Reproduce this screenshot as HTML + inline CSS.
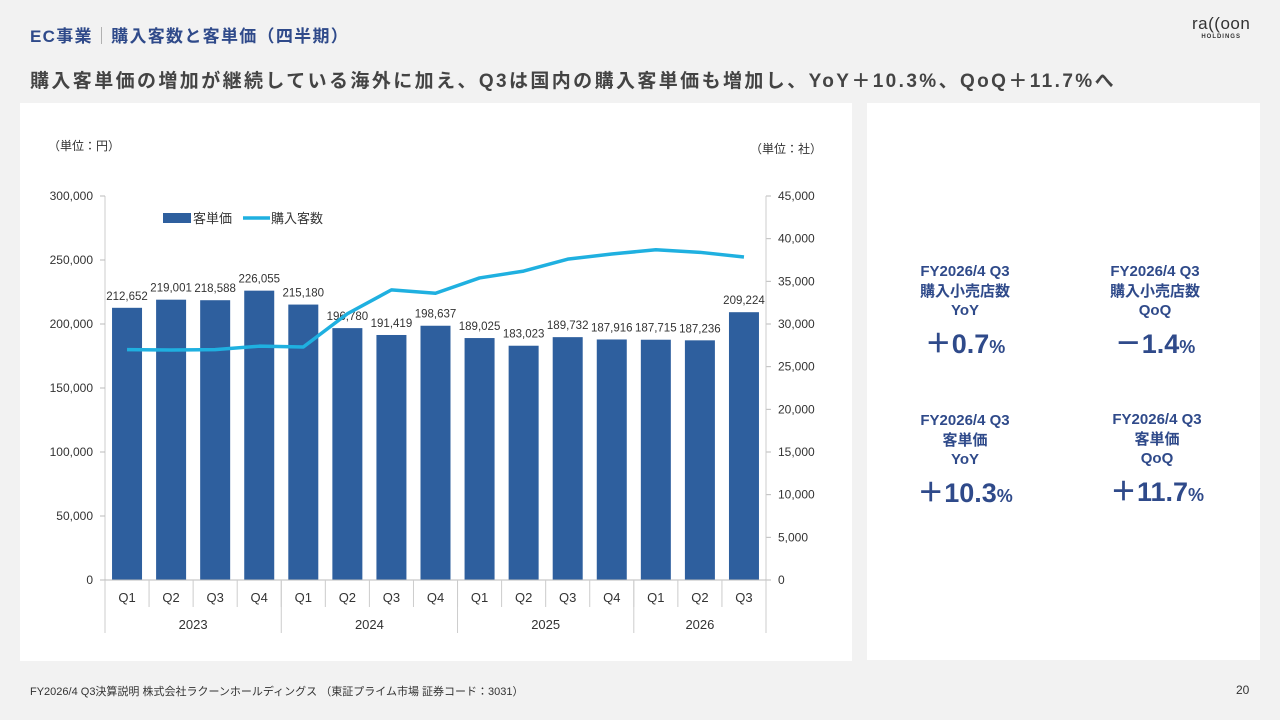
<!DOCTYPE html>
<html><head><meta charset="utf-8"><style>
body{margin:0;width:1280px;height:720px;background:#f2f2f2;font-family:"Liberation Sans","Noto Sans CJK JP",sans-serif;position:relative;overflow:hidden}
.abs{position:absolute}
.kpi{position:absolute;width:200px;text-align:center;color:#2f4a8a;font-weight:bold;font-size:15px;line-height:19.5px}
.kpi .v{font-size:27px;margin-top:8px;line-height:30px}
.kpi .v small{font-size:18px}
</style></head><body>
<div class="abs" style="left:30px;top:22px;font-size:17px;font-weight:bold;color:#2f4a8a;letter-spacing:1.3px">EC事業<span style="color:#999;font-weight:normal">｜</span>購入客数と客単価（四半期）</div>
<div class="abs" style="left:1192px;top:14px;color:#333;font-size:17px;letter-spacing:0.5px">ra((oon<div style="font-size:6px;text-align:center;font-weight:bold;letter-spacing:1px">HOLDINGS</div></div>
<div class="abs" style="left:30px;top:66px;font-size:19px;font-weight:bold;color:#444;letter-spacing:2.4px">購入客単価の増加が継続している海外に加え、Q3は国内の購入客単価も増加し、YoY＋10.3%、QoQ＋11.7%へ</div>
<div class="abs" style="left:20px;top:103px;width:832px;height:558px;background:#fff"></div>
<div class="abs" style="left:867px;top:103px;width:393px;height:557px;background:#fff"></div>
<svg class="abs" style="left:0;top:0" width="1280" height="720" id="chart"></svg>
<div class="kpi" style="left:865px;top:262px">FY2026/4 Q3<br>購入小売店数<br>YoY<div class="v">＋0.7<small>%</small></div></div>
<div class="kpi" style="left:1055px;top:262px">FY2026/4 Q3<br>購入小売店数<br>QoQ<div class="v">－1.4<small>%</small></div></div>
<div class="kpi" style="left:865px;top:411px">FY2026/4 Q3<br>客単価<br>YoY<div class="v">＋10.3<small>%</small></div></div>
<div class="kpi" style="left:1057px;top:410px">FY2026/4 Q3<br>客単価<br>QoQ<div class="v">＋11.7<small>%</small></div></div>
<div class="abs" style="left:30px;top:683px;font-size:11px;color:#333">FY2026/4 Q3決算説明 株式会社ラクーンホールディングス （東証プライム市場 証券コード：3031）</div>
<div class="abs" style="left:1236px;top:683px;font-size:12px;color:#333">20</div>
<script>
const quarters=["Q1","Q2","Q3","Q4","Q1","Q2","Q3","Q4","Q1","Q2","Q3","Q4","Q1","Q2","Q3"];
const years=["2023","2024","2025","2026"];
const yearCounts=[4,4,4,3];
const unitPrice=[212652,219001,218588,226055,215180,196780,191419,198637,189025,183023,189732,187916,187715,187236,209224];
const buyers=[27000,26950,27000,27400,27300,31200,34000,33600,35400,36200,37600,38200,38700,38400,37850];
const leftTicks=[0,50000,100000,150000,200000,250000,300000];
const rightTicks=[0,5000,10000,15000,20000,25000,30000,35000,40000,45000];
const svg=document.getElementById('chart');const NS="http://www.w3.org/2000/svg";
const X0=105,X1=766,Y0=580,Y1=196,cw=(X1-X0)/quarters.length;
const yL=v=>Y0-(v/300000)*(Y0-Y1), yR=v=>Y0-(v/45000)*(Y0-Y1), xc=i=>X0+cw*(i+0.5);
const fmt=v=>v.toLocaleString('en-US');
function el(t,a,txt){const e=document.createElementNS(NS,t);for(const k in a)e.setAttribute(k,a[k]);if(txt!=null)e.textContent=txt;svg.appendChild(e);return e;}
let e;
e=el('text',{x:48,y:150,'font-size':12,fill:'#333'},'（単位：円）');

e=el('text',{x:750,y:153,'font-size':12,fill:'#333'},'（単位：社）');

leftTicks.forEach(v=>{e=el('text',{x:93,y:yL(v)+4,'font-size':12,fill:'#333','text-anchor':'end'},fmt(v));
});
rightTicks.forEach(v=>{e=el('text',{x:778,y:yR(v)+4,'font-size':12,fill:'#333'},fmt(v));

el('line',{x1:766,x2:771,y1:yR(v),y2:yR(v),stroke:'#bbb'});});
el('line',{x1:X0,x2:X0,y1:Y1,y2:Y0,stroke:'#ccc'});
el('line',{x1:X1,x2:X1,y1:Y1,y2:Y0,stroke:'#ccc'});
leftTicks.forEach(v=>el('line',{x1:100,x2:X0,y1:yL(v),y2:yL(v),stroke:'#bbb'}));
unitPrice.forEach((v,i)=>{e=el('rect',{x:xc(i)-15,y:yL(v),width:30,height:Y0-yL(v),fill:'#2e5f9e'});

e=el('text',{x:xc(i),y:yL(v)-8,'font-size':11.5,fill:'#333','text-anchor':'middle'},fmt(v));
});
el('line',{x1:X0,x2:X1,y1:Y0,y2:Y0,stroke:'#bbb'});
e=el('polyline',{points:buyers.map((v,i)=>xc(i)+','+yR(v)).join(' '),fill:'none',stroke:'#1fb0e0','stroke-width':3.5,'stroke-linejoin':'round'});

quarters.forEach((q,i)=>{el('line',{x1:X0+cw*i,x2:X0+cw*i,y1:Y0,y2:607,stroke:'#ccc'});
e=el('text',{x:xc(i),y:602,'font-size':13,fill:'#333','text-anchor':'middle'},q);
});
let s=0;
years.forEach((y,k)=>{const xa=X0+cw*s,xb=X0+cw*(s+yearCounts[k]);
el('line',{x1:xa,x2:xa,y1:Y0,y2:633,stroke:'#ccc'});
e=el('text',{x:(xa+xb)/2,y:629,'font-size':13,fill:'#333','text-anchor':'middle'},y);
s+=yearCounts[k];});
el('line',{x1:X1,x2:X1,y1:Y0,y2:633,stroke:'#ccc'});
e=el('rect',{x:163,y:213,width:28,height:10,fill:'#2e5f9e'});

e=el('text',{x:193,y:223,'font-size':13,fill:'#333'},'客単価');

e=el('line',{x1:243,x2:270,y1:218,y2:218,stroke:'#1fb0e0','stroke-width':3.5});

e=el('text',{x:271,y:223,'font-size':13,fill:'#333'},'購入客数');

</script>
</body></html>
